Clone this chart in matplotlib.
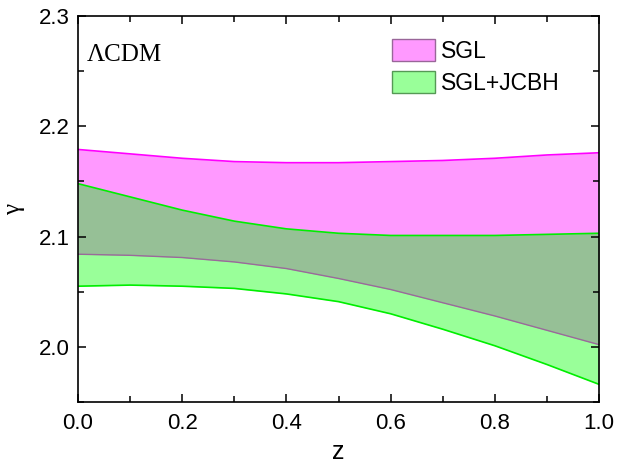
import matplotlib
matplotlib.use("Agg")
import matplotlib.pyplot as plt
import numpy as np
from matplotlib.patches import Patch
from matplotlib.ticker import MultipleLocator

# gamma(z) bands
z = [0.0, 0.1, 0.2, 0.3, 0.4, 0.5, 0.6, 0.7, 0.8, 0.9, 1.0]
sgl_hi = [2.179, 2.175, 2.171, 2.168, 2.167, 2.167, 2.168, 2.169, 2.171, 2.174, 2.176]
sgl_lo = [2.084, 2.083, 2.081, 2.077, 2.071, 2.062, 2.052, 2.040, 2.028, 2.015, 2.002]
jcbh_hi = [2.148, 2.136, 2.124, 2.114, 2.107, 2.103, 2.101, 2.101, 2.101, 2.102, 2.103]
jcbh_lo = [2.055, 2.056, 2.055, 2.053, 2.048, 2.041, 2.030, 2.016, 2.001, 1.984, 1.966]
labels = ["SGL", "SGL+JCBH"]

plt.rcParams["font.family"] = ["Liberation Sans", "DejaVu Sans"]

fig = plt.figure(figsize=(6.18, 4.67), dpi=100)
ax = fig.add_axes([0.1262, 0.1392, 0.8431, 0.8265])

pink, magenta = "#FF99FF", "#FF00FF"
lgreen, green = "#99FF99", "#00EE00"
overlap = "#96C096"

ax.fill_between(z, sgl_lo, sgl_hi, color=pink, lw=0)
ax.fill_between(z, jcbh_lo, jcbh_hi, color=lgreen, lw=0)
ov_lo = np.maximum(sgl_lo, jcbh_lo)
ov_hi = np.minimum(sgl_hi, jcbh_hi)
ax.fill_between(z, ov_lo, ov_hi, where=ov_hi > ov_lo, color=overlap, lw=0)

ax.plot(z, sgl_hi, color=magenta, lw=1.2)
ax.plot(z, jcbh_hi, color=green, lw=1.2)
ax.plot(z, jcbh_lo, color=green, lw=1.2)
ax.plot(z, sgl_lo, color="#9A6A9A", lw=1.0)

ax.set_xlim(0, 1)
ax.set_ylim(1.95, 2.3)
ax.xaxis.set_major_locator(MultipleLocator(0.2))
ax.xaxis.set_minor_locator(MultipleLocator(0.1))
ax.yaxis.set_major_locator(MultipleLocator(0.1))
ax.yaxis.set_minor_locator(MultipleLocator(0.05))
ax.tick_params(which="both", direction="in", top=True, right=True, width=1.1, labelsize=16)
ax.tick_params(which="major", length=6)
ax.tick_params(which="minor", length=4)
ax.tick_params(axis="x", pad=8)
ax.tick_params(axis="y", pad=6)
for s in ax.spines.values():
    s.set_linewidth(1.2)

ax.set_xlabel("z", fontsize=18, labelpad=4)
ax.set_ylabel("γ", fontsize=18, family="Liberation Serif", labelpad=10)
ax.text(0.017, 0.898, "ΛCDM", transform=ax.transAxes, fontsize=18,
        family="Liberation Serif", va="center")

handles = [Patch(facecolor=pink, edgecolor="#996699", lw=1),
           Patch(facecolor=lgreen, edgecolor="#559955", lw=1)]
ax.legend(handles, labels, loc="upper left", bbox_to_anchor=(0.603, 0.94),
          frameon=False, fontsize=16.5, handlelength=1.85, handleheight=1.1,
          handletextpad=0.3, labelspacing=0.35, borderpad=0, borderaxespad=0)

fig.savefig("out.png", dpi=100)
